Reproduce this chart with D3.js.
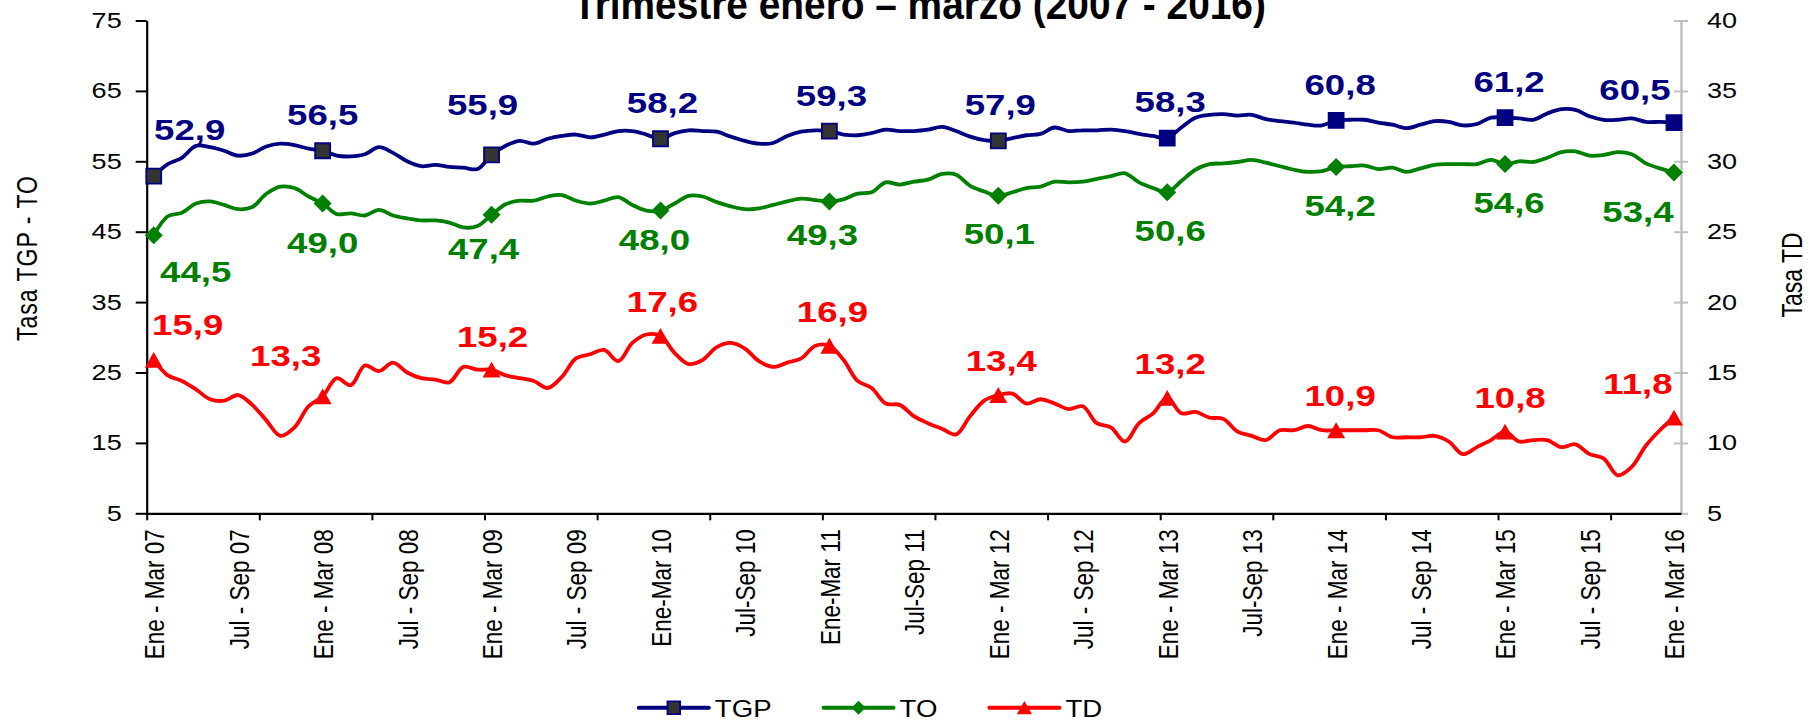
<!DOCTYPE html>
<html><head><meta charset="utf-8">
<script src="https://cdn.jsdelivr.net/npm/d3@7"></script>
<style>html,body{margin:0;padding:0;background:#fff;overflow:hidden}</style>
</head><body>
<svg id="chart" width="1810" height="721"></svg>
<script>
// ---------------- DATA ----------------
const monthNames = ["Ene","Feb","Mar","Abr","May","Jun","Jul","Ago","Sep","Oct","Nov","Dic"];
// rolling quarters Ene-Mar 07 ... Ene-Mar 16 (109 periods)
const categories = d3.range(109).map(i => {
  const s = i % 12, e = (i + 2) % 12, yy = 7 + Math.floor((i + 2) / 12);
  return monthNames[s] + " - " + monthNames[e] + " " + String(yy).padStart(2, "0");
});
const tickLabels = ["Ene - Mar 07","Jul - Sep 07","Ene - Mar 08","Jul - Sep 08","Ene - Mar 09","Jul - Sep 09",
  "Ene-Mar 10","Jul-Sep 10","Ene-Mar 11","Jul-Sep 11","Ene - Mar 12","Jul - Sep 12","Ene - Mar 13",
  "Jul-Sep 13","Ene - Mar 14","Jul - Sep 14","Ene - Mar 15","Jul - Sep 15","Ene - Mar 16"];
const leftTicks = [5,15,25,35,45,55,65,75];
const rightTicks = [5,10,15,20,25,30,35,40];

const TGP = [
  52.9,54.6,55.5,57.2,57.0,56.5,55.8,56.1,57.1,57.5,57.3,56.8,
  56.5,55.8,55.7,56.0,57.0,56.2,55.0,54.3,54.5,54.2,54.1,53.9,
  55.9,57.2,57.9,57.5,58.2,58.6,58.8,58.4,58.8,59.3,59.3,58.8,
  58.2,59.0,59.4,59.3,59.2,58.5,57.9,57.5,57.6,58.6,59.2,59.4,
  59.3,58.8,58.7,59.0,59.5,59.3,59.3,59.5,59.9,59.3,58.5,58.0,
  57.9,58.3,58.7,58.9,59.8,59.3,59.4,59.4,59.5,59.3,58.9,58.6,
  58.3,59.8,61.2,61.6,61.7,61.5,61.6,61.0,60.7,60.5,60.2,60.1,
  60.8,60.9,60.9,60.5,60.2,59.7,60.2,60.7,60.6,60.1,60.3,61.2,
  61.2,61.1,60.9,61.8,62.4,62.3,61.4,60.9,60.9,61.1,60.6,60.6,
  60.5];
const TO = [
  44.5,47.2,47.7,49.0,49.3,48.8,48.2,48.5,50.4,51.4,51.2,50.0,
  49.0,47.5,47.6,47.3,48.1,47.3,46.9,46.6,46.6,46.3,45.6,45.8,
  47.4,48.9,49.4,49.4,50.0,50.2,49.4,49.0,49.4,49.9,48.8,48.0,
  48.0,49.0,50.1,50.0,49.2,48.6,48.2,48.3,48.8,49.3,49.7,49.5,
  49.3,49.6,50.4,50.6,52.0,51.7,52.1,52.4,53.2,53.1,51.5,50.7,
  50.1,50.6,51.2,51.4,52.1,52.0,52.1,52.5,52.9,53.3,52.0,51.2,
  50.6,52.2,53.8,54.6,54.7,54.9,55.2,54.8,54.3,53.8,53.5,53.6,
  54.2,54.3,54.4,53.9,54.1,53.5,54.0,54.5,54.6,54.6,54.6,55.2,
  54.6,55.0,54.9,55.5,56.3,56.4,55.8,55.9,56.3,56.0,54.7,54.0,
  53.4];
const TD = [
  15.9,14.8,14.4,13.8,13.1,13.0,13.4,12.7,11.6,10.5,11.1,12.6,
  13.3,14.6,14.1,15.5,15.1,15.7,15.0,14.6,14.5,14.3,15.4,15.2,
  15.2,14.8,14.6,14.4,13.9,14.7,16.0,16.3,16.6,15.8,17.1,17.7,
  17.6,16.4,15.6,15.9,16.8,17.1,16.7,15.8,15.4,15.7,16.0,16.9,
  16.9,15.9,14.4,13.9,12.8,12.7,11.9,11.4,11.0,10.6,11.9,13.0,
  13.4,13.5,12.8,13.1,12.8,12.4,12.6,11.4,11.1,10.1,11.4,12.1,
  13.2,12.1,12.2,11.8,11.7,10.8,10.5,10.2,10.9,10.9,11.2,10.9,
  10.9,10.9,10.9,10.9,10.4,10.4,10.4,10.5,10.1,9.2,9.7,10.2,
  10.8,10.1,10.2,10.2,9.7,9.9,9.2,8.9,7.7,8.3,9.8,10.9,
  11.8];
const seriesNames = ["TGP","TO","TD"];

// ---------------- LAYOUT ----------------
const FONT = '"Liberation Sans", Arial, Helvetica, sans-serif';
const plot = {left:146.7, right:1681, top:20.5, bottom:513.3};
const colors = {TGP:"#000080", TO:"#008000", TD:"#FF0000"};
// label nudges (dx, dy) from marker centre, one per labelled point
const labelNudge = {
  TGP:[[36,-36],[0,-26],[-9,-40],[2,-26],[2,-25],[2,-26],[3,-26],[4,-25.5],[4,-26],[-39,-23]],
  TO:[[42,47],[0,49.5],[-8,44],[-6,39.5],[-7,43.5],[1,48.5],[3,48.5],[4,49.5],[4,48.5],[-36,49.5]],
  TD:[[34,-25],[-37,-30],[1,-23],[2,-24],[3,-24],[3,-24],[3,-24],[4,-24],[5,-24],[-36,-24]]
};

const svg = d3.select("#chart");
svg.append("rect").attr("width",1810).attr("height",721).attr("fill","#fff");

const n = categories.length;
const x = d3.scalePoint().domain(d3.range(n)).range([plot.left, plot.right]).padding(0.5);
const xEdge = d3.scaleLinear().domain([0, n]).range([plot.left, plot.right]);
const yL = d3.scaleLinear().domain([5,75]).range([plot.bottom, plot.top]);
const yR = d3.scaleLinear().domain([5,40]).range([plot.bottom, plot.top]);

function stretchText(sel, s){
  sel.each(function(){
    const t = d3.select(this);
    const xx = +t.attr("x") || 0, yy = +t.attr("y") || 0;
    t.attr("x",0).attr("y",0).attr("transform",`translate(${xx},${yy}) scale(${s},1)`);
  });
}

// Left axis
const gL = svg.append("g").attr("transform",`translate(${plot.left},0)`)
  .call(d3.axisLeft(yL).tickValues(leftTicks).tickSize(11).tickSizeOuter(0).tickPadding(14));
gL.attr("font-size",22).attr("font-family",FONT);
gL.select(".domain").attr("stroke","#000").attr("stroke-width",2.2);
gL.selectAll(".tick line").attr("stroke","#000").attr("stroke-width",2);
gL.selectAll(".tick text").attr("fill","#000").call(stretchText, 1.23);

// Right axis
const gR = svg.append("g").attr("transform",`translate(${plot.right},0)`)
  .call(d3.axisRight(yR).tickValues(rightTicks).tickSize(7).tickSizeOuter(0).tickPadding(19));
gR.attr("font-size",22).attr("font-family",FONT);
gR.select(".domain").attr("stroke","#c0c0c0").attr("stroke-width",2.5);
gR.selectAll(".tick line").attr("x1",-7).attr("stroke","#c0c0c0").attr("stroke-width",2);
gR.selectAll(".tick text").attr("fill","#000").call(stretchText, 1.23);

// X axis (line + tick marks every 8 categories)
const gX = svg.append("g").attr("transform",`translate(0,${plot.bottom})`)
  .call(d3.axisBottom(xEdge).tickValues(d3.range(0, n, 8)).tickSize(7).tickSizeOuter(0).tickFormat(""));
gX.select(".domain").attr("stroke","#000").attr("stroke-width",2.2);
gX.selectAll(".tick line").attr("stroke","#000").attr("stroke-width",2);

// X labels every 6 categories
const labelIdx = d3.range(0, n, 6);
const gXL = svg.append("g").attr("transform",`translate(0,${plot.bottom})`)
  .call(d3.axisBottom(x).tickValues(labelIdx).tickSize(0).tickFormat(i => tickLabels[labelIdx.indexOf(i)]));
gXL.select(".domain").remove();
gXL.attr("font-size",22.5).attr("font-family",FONT);
gXL.selectAll(".tick text")
  .attr("fill","#000").attr("x",0).attr("y",0).attr("dy","0.36em")
  .attr("text-anchor","end")
  .attr("transform",`translate(0,16) scale(1.22,1) rotate(-90)`);

// Axis titles
svg.append("text").text("Tasa TGP - TO")
  .attr("font-family",FONT).attr("font-size",23).attr("letter-spacing",1)
  .attr("text-anchor","middle").attr("dy","0.36em")
  .attr("transform",`translate(27,258) scale(1.25,1) rotate(-90)`);
svg.append("text").text("Tasa TD")
  .attr("font-family",FONT).attr("font-size",23)
  .attr("text-anchor","middle").attr("dy","0.36em")
  .attr("transform",`translate(1792,275) scale(1.25,1) rotate(-90)`);

// Marker symbol types
const squareType = {draw(ctx, size){const s=Math.sqrt(size)/2; ctx.moveTo(-s,-s); ctx.lineTo(s,-s); ctx.lineTo(s,s); ctx.lineTo(-s,s); ctx.closePath();}};
const diamondType = {draw(ctx, size){const r=Math.sqrt(size)/2; ctx.moveTo(0,-r); ctx.lineTo(r,0); ctx.lineTo(0,r); ctx.lineTo(-r,0); ctx.closePath();}};
const triangleType = {draw(ctx, size){const w=Math.sqrt(size), h=w*0.88; ctx.moveTo(0,-h/2); ctx.lineTo(w/2,h/2); ctx.lineTo(-w/2,h/2); ctx.closePath();}};

const series = [
  {name:"TGP", values:TGP, y:yL, type:squareType, size:225},
  {name:"TO",  values:TO,  y:yL, type:diamondType, size:324},
  {name:"TD",  values:TD,  y:yR, type:triangleType, size:324}
];
const markerIdx = d3.range(0, n, 12);
const fmt = v => d3.format(".1f")(v).replace(".", ",");

const gLines = svg.append("g");
series.forEach(s => {
  const line = d3.line().x((d,i) => x(i)).y(d => s.y(d)).curve(d3.curveCatmullRom.alpha(0.5));
  gLines.append("path").datum(s.values)
    .attr("fill","none").attr("stroke",colors[s.name]).attr("stroke-width",3.8)
    .attr("stroke-linejoin","round").attr("stroke-linecap","round").attr("d",line);
});
series.forEach(s => {
  const sym = d3.symbol().type(s.type).size(s.size);
  gLines.selectAll(null).data(markerIdx).enter().append("path")
    .attr("d", sym)
    .attr("transform", i => `translate(${x(i)},${s.y(s.values[i])})`)
    .attr("fill", (i,k) => s.name === "TGP" ? (k < 6 ? "#333333" : colors.TGP) : colors[s.name])
    .attr("stroke", s.name === "TGP" ? colors.TGP : "none")
    .attr("stroke-width", 1.8);
});
// Data labels
series.forEach(s => {
  gLines.selectAll(null).data(markerIdx).enter().append("text")
    .text(i => fmt(s.values[i]))
    .attr("font-family",FONT).attr("font-weight","bold").attr("font-size",30)
    .attr("fill",colors[s.name]).attr("text-anchor","middle")
    .attr("transform",(i,k) => `translate(${x(i)+labelNudge[s.name][k][0]},${s.y(s.values[i])+labelNudge[s.name][k][1]}) scale(1.22,1)`);
});

// Title
const title = svg.append("text").text("Trimestre enero – marzo (2007 - 2016)")
  .attr("font-family",'"Liberation Sans Narrow","Arial Narrow",' + FONT)
  .attr("font-weight","bold").attr("font-size",42).attr("text-anchor","middle");
const tw = title.node().getComputedTextLength();
title.attr("transform",`translate(919.5,18.5) scale(${693/tw},1)`);

// Legend
const LSX = 1.15, lineLen = 70, gap = 6, itemGap = 52, legY = 707.7;
const gLeg = svg.append("g");
const items = series.map(s => {
  const g = gLeg.append("g");
  g.append("line").attr("x1",0).attr("x2",lineLen).attr("y1",0).attr("y2",0)
    .attr("stroke",colors[s.name]).attr("stroke-width",4).attr("stroke-linecap","round");
  g.append("path").attr("d", d3.symbol().type(s.type).size(s.name==="TGP"?160:(s.name==="TO"?200:230))())
    .attr("transform",`translate(${lineLen/2},0)`)
    .attr("fill", s.name==="TGP" ? "#333333" : colors[s.name])
    .attr("stroke", s.name==="TGP" ? colors.TGP : "none").attr("stroke-width",1.8);
  const t = g.append("text").text(s.name).attr("font-family",FONT).attr("font-size",24)
    .attr("fill","#000");
  const w = t.node().getComputedTextLength() * LSX;
  t.attr("transform",`translate(${lineLen+gap},9) scale(${LSX},1)`);
  return {g, w: lineLen + gap + w};
});
const total = d3.sum(items, d => d.w) + itemGap * (items.length - 1);
let cx = 870.5 - total / 2;
items.forEach(it => { it.g.attr("transform",`translate(${cx},${legY})`); cx += it.w + itemGap; });
</script>
</body></html>
